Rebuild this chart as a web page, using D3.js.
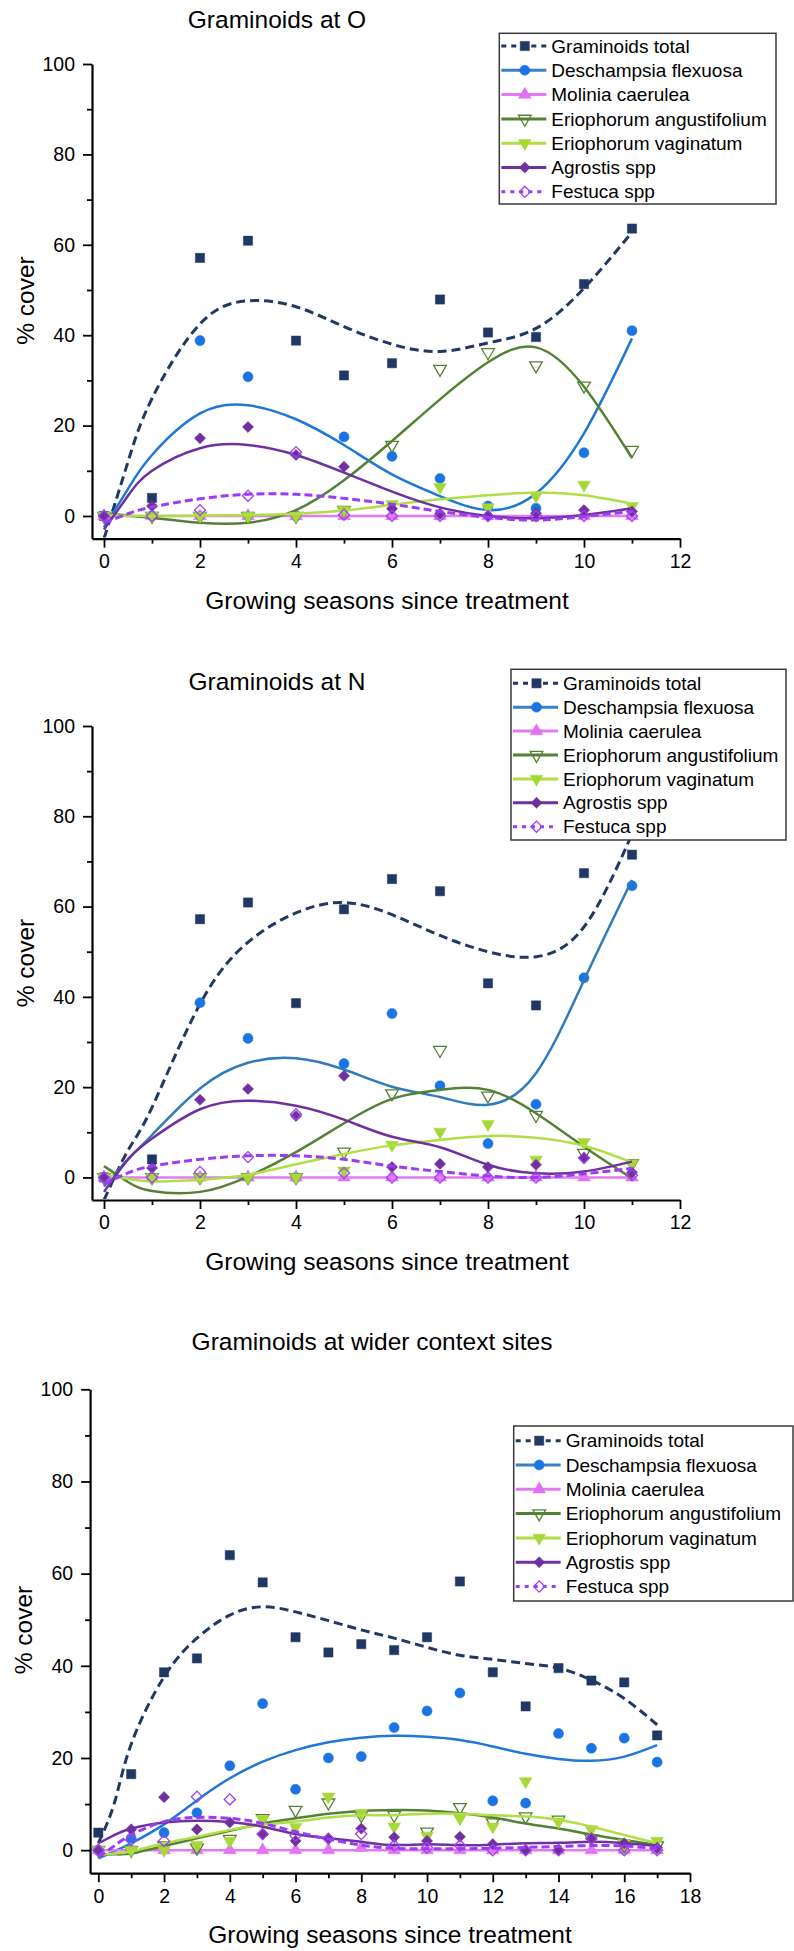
<!DOCTYPE html>
<html><head><meta charset="utf-8">
<script src="https://cdn.jsdelivr.net/npm/d3@7"></script>
<style>
body{margin:0;background:#fff}
svg{display:block}
text{font-family:Arial,"Liberation Sans",sans-serif;fill:#000}
</style>
</head><body>
<svg id="chart" width="794" height="1951"></svg>
<script>
// ---------------- DATA ----------------
const SERIES_NAMES = ["Graminoids total","Deschampsia flexuosa","Molinia caerulea","Eriophorum angustifolium","Eriophorum vaginatum","Agrostis spp","Festuca spp"];
const PANEL_TITLES = ["Graminoids at O","Graminoids at N","Graminoids at wider context sites"];
const X_LABEL = "Growing seasons since treatment";
const Y_LABEL = "% cover";
const Y_TICKS = [0,20,40,60,80,100];
const Y_MINOR = [10,30,50,70,90];
const X_TICKS_12 = [0,2,4,6,8,10,12];
const X_MINOR_12 = [1,3,5,7,9,11];
const X_TICKS_18 = [0,2,4,6,8,10,12,14,16,18];
const X_MINOR_18 = [1,3,5,7,9,11,13,15,17];

// observation years
const X_ON = [0,1,2,3,4,5,6,7,8,9,10,11];
const X_W  = [0,1,2,3,4,5,6,7,8,9,10,11,12,13,14,15,16,17];
// x positions of the fitted-curve readings
const FX_ON = [0,0.5,1,2,3,4,5,6,7,8,9,10,11];
const FX_W  = [0,0.5,1,2,3,4,5,6,7,8,9,10,11,12,13,14,15,16,17];

// --- Site O: observed cover
const O_total  = [0,4,57.1,60.9,38.8,31.1,33.8,47.9,40.6,39.6,51.3,63.6];
const O_desch  = [0,0,38.8,30.8,0,17.5,13.2,8.3,2.2,1.7,14.0,41.0];
const O_molin  = [0,0,0,0,0,0,0,0,0,0,0,0];
const O_angus  = [0,0,0,0,0,1.3,15.7,32.5,36.2,33.3,28.8,14.6];
const O_vagin  = [0,0,0,0,0,1.3,2.6,6.4,1.9,4.4,6.9,2.2];
const O_agros  = [0,2.2,17.2,19.7,13.5,10.9,1.6,0.5,0,0.6,1.3,1.0];
const O_festu  = [0,0,1.3,4.5,14.1,0.3,0,0,0,0,0,0];
// --- Site O: fitted curves
const O_total_fit = [-5,12,26,42.5,47.6,46.3,41.9,38,36.4,38.3,41.5,50.4,62.8];
const O_desch_fit = [-2.5,6,13.5,22.7,24.5,21.4,15.7,9.2,4.4,1.3,5.0,18.3,39.3];
const O_molin_fit = [0,0,0,0,0,0,0,0,0,0,0,0,0];
const O_angus_fit = [0.6,0.1,-0.4,-1.5,-1.5,1.3,7.9,16.6,25.8,34,37.3,28.6,12.8];
const O_vagin_fit = [0.2,0,0,0.1,0.2,0.5,1.2,2.5,3.7,4.6,5.2,4.6,2.7];
const O_agros_fit = [-3,4.5,10,15,15.7,13.5,9.6,5.4,1.9,0,-0.5,0.2,1.7];
const O_festu_fit = [-1.5,0.5,2,3.8,4.8,4.8,3.9,2.6,1,-0.3,-0.9,-0.1,1.0];

// --- Site N: observed cover
const N_total  = [0,4.0,57.2,60.9,38.6,59.4,66.1,63.4,43.0,38.1,67.4,71.5];
const N_desch  = [0,0,38.7,30.8,0,25.2,36.3,20.3,7.5,16.2,44.2,64.6];
const N_molin  = [0,0,0,0,0,0,0,0,0,0,0,0];
const N_angus  = [0,0,0,0,0,5.7,18.6,28.2,18.1,13.8,5.4,3.1];
const N_vagin  = [0,0,0,0,0,1.5,7.2,10.1,11.8,3.9,7.8,3.1];
const N_agros  = [0,2.1,17.2,19.6,13.6,22.5,2.3,3.0,2.3,2.8,4.4,1.1];
const N_festu  = [0,0,1.2,4.5,14.0,1.0,0,0,0,0,4.3,0.5];
// --- Site N: fitted curves
const N_total_fit = [-5,6,15.5,38.4,52.1,58.6,60.9,58.2,53.6,50,48.9,55.5,76];
const N_desch_fit = [-2,4,9.4,19.7,25.4,26.4,23.9,20.1,17.8,16.1,23.1,43.7,65.9];
const N_molin_fit = [0,0,0,0,0,0,0,0,0,0,0,0,0];
const N_angus_fit = [2.5,-1,-3.0,-3.2,0.2,5.6,12,17.4,19.4,19.4,14.2,6.8,-0.2];
const N_vagin_fit = [0.5,-0.3,-0.9,-0.5,0.6,2.9,5.2,7.1,8.3,9.2,8.8,7.0,3.3];
const N_agros_fit = [-3.2,4,8.6,15.1,17,15.9,12.8,9,6.7,2.8,0.9,1.3,3.5];
const N_festu_fit = [-1.5,1,2.5,4.0,4.8,4.8,4.0,2.5,1.3,0.3,0,0.8,2.0];

// --- Wider context sites: observed cover
const W_total  = [3.8,16.5,38.6,41.6,64.0,58.1,46.2,42.9,44.7,43.4,46.2,58.3,38.6,31.2,39.5,36.8,36.4,24.9];
const W_desch  = [0,2.6,3.8,8.1,18.3,31.8,13.2,20.0,20.3,26.6,30.2,34.1,10.7,10.2,25.3,22.1,24.3,19.1];
const W_molin  = [0,0,0,0,0,0,0,0,0.5,0,0,0,0,0,0,0,0,0];
const W_angus  = [0,0,1,0.5,2.4,6.9,8.7,10.3,7.6,7.6,4.0,9.3,6,7.3,6.6,2.5,1,1];
const W_vagin  = [0,0,0,1.1,2,6.7,5,11.6,8.0,5.1,3.1,6.9,5.1,14.9,6.2,4.5,1.5,2.0];
const W_agros  = [0,4.5,11.5,4.5,6.0,3.4,2.0,2.5,4.7,2.8,2.0,2.9,1.3,0,0,2.6,1.5,0.5];
const W_festu  = [0,2.2,2.0,11.6,11.0,3.5,3.1,2.5,3.5,1,0.5,1,0,0,0,2.5,0,0];
// --- Wider context sites: fitted curves
const W_total_fit = [1.5,10.5,23,37.6,46,51,52.8,51.7,49.8,47.8,46,44,42.3,41.4,40.5,39.5,36.9,32.9,27.2];
const W_desch_fit = [-1.8,-0.2,1.5,5.6,10.8,15.6,19.2,21.7,23.4,24.4,24.8,24.6,23.9,22.5,20.9,19.8,19.4,20.3,22.8];
const W_molin_fit = [0,0,0,0,0,0,0,0,0,0,0,0,0,0,0,0,0,0,0];
const W_angus_fit = [-1,-0.9,-0.7,0.9,2.6,4.2,5.8,6.9,7.9,8.5,8.7,8.6,8.0,7.1,5.8,4.7,3.4,2.2,1.1];
const W_vagin_fit = [-1,-0.7,-0.3,1.5,2.9,4.4,5.5,6.2,7.1,7.6,7.6,7.9,7.9,7.6,7.3,6.6,5.1,3.3,1.5];
const W_agros_fit = [1.5,3.3,4.7,6.0,6.4,6.1,5.1,3.5,2.6,1.8,1.1,1.3,1.1,1.2,1.5,1.6,1.8,1.5,0.9];
const W_festu_fit = [-1.5,1.0,3.3,6.2,7.1,6.9,5.8,4.0,2.4,1.1,0.4,0.3,0.3,0.4,0.6,0.8,1.0,0.9,0.3];

// ---------------- STYLES ----------------
const STYLES = [
  {color:"#203864", line:"#203864", shape:"square", fill:true, dash:"9,5", width:3},
  {color:"#1a74e2", line:"#1f78d8", shape:"circle", fill:true, dash:null, width:2.5},
  {color:"#e070f5", line:"#e37af2", shape:"triUp", fill:true, dash:null, width:2.5},
  {color:"#548235", line:"#548235", shape:"triDown", fill:false, dash:null, width:2.5},
  {color:"#a6d838", line:"#b0de45", shape:"triDown", fill:true, dash:null, width:2.5},
  {color:"#7030a0", line:"#7030a0", shape:"diamond", fill:true, dash:null, width:2.5},
  {color:"#a040f5", line:"#9b3cf5", shape:"diamond", fill:false, dash:"8,4", width:3}
];
const LEGEND_DASH = ["5,5", null, null, null, null, null, "4,5"];
const LEGEND_LINE = ["#203864","#3a80c2","#e37af2","#548235","#b0de45","#7030a0","#9b3cf5"];

const panels = [
  {title:PANEL_TITLES[0], titleX:277, titleY:27.5,
   xDom:[-0.25,12], xRange:[92,680], yRange:[538.6,64], xTicks:X_TICKS_12, xMinor:X_MINOR_12,
   yTitle:[33.5,300.5], xTitleX:387, deschLine:"#1f78d8",
   x:X_ON, fx:FX_ON,
   pts:[O_total,O_desch,O_molin,O_angus,O_vagin,O_agros,O_festu],
   fits:[O_total_fit,O_desch_fit,O_molin_fit,O_angus_fit,O_vagin_fit,O_agros_fit,O_festu_fit],
   legend:{x:499.3,y:33.3,w:276.7,h:170.7,row0:46,step:24.3}},
  {title:PANEL_TITLES[1], titleX:277, titleY:690.3,
   xDom:[-0.25,12], xRange:[92,680], yRange:[1200,726], xTicks:X_TICKS_12, xMinor:X_MINOR_12,
   yTitle:[34,963], xTitleX:387, deschLine:"#2e7bbd",
   x:X_ON, fx:FX_ON,
   pts:[N_total,N_desch,N_molin,N_angus,N_vagin,N_agros,N_festu],
   fits:[N_total_fit,N_desch_fit,N_molin_fit,N_angus_fit,N_vagin_fit,N_agros_fit,N_festu_fit],
   legend:{x:511,y:669.3,w:275,h:170.7,row0:683.3,step:23.9}},
  {title:PANEL_TITLES[2], titleX:372, titleY:1350,
   xDom:[-0.25,18], xRange:[90.1,690], yRange:[1873.2,1389.3], xTicks:X_TICKS_18, xMinor:X_MINOR_18,
   yTitle:[31.7,1630], xTitleX:390, deschLine:"#1f78d8",
   x:X_W, fx:FX_W,
   pts:[W_total,W_desch,W_molin,W_angus,W_vagin,W_agros,W_festu],
   fits:[W_total_fit,W_desch_fit,W_molin_fit,W_angus_fit,W_vagin_fit,W_agros_fit,W_festu_fit],
   legend:{x:513.7,y:1426,w:279.3,h:175,row0:1440.7,step:24.3}}
];

const svg = d3.select("#chart");

function symbolPath(shape){
  switch(shape){
    case "square": return d3.symbol(d3.symbolSquare, 85)();
    case "circle": return d3.symbol(d3.symbolCircle, 80)();
    case "triUp": return d3.symbol(d3.symbolTriangle, 70)();
    case "triDown": return d3.symbol(d3.symbolTriangle, 70)();
    case "diamond": return d3.symbol(d3.symbolSquare, 62)();
  }
}
function symbolRot(shape){
  if(shape==="triDown") return 180;
  if(shape==="diamond") return 45;
  return 0;
}
function drawMarker(g, shape, st, cx, cy){
  g.append("path")
    .attr("d", symbolPath(shape))
    .attr("transform", `translate(${cx},${cy}) rotate(${symbolRot(shape)})`)
    .attr("fill", st.fill ? st.color : "#fff")
    .attr("fill-opacity", st.fill ? 1 : 0)
    .attr("stroke", st.color)
    .attr("stroke-width", st.fill ? 0.5 : 1.3);
}

panels.forEach((p, pi) => {
  const x = d3.scaleLinear().domain(p.xDom).range(p.xRange);
  const y = d3.scaleLinear().domain([-5,100]).range(p.yRange);
  const g = svg.append("g");

  g.append("text").attr("x", p.titleX).attr("y", p.titleY)
    .attr("text-anchor","middle").attr("font-size","24.5px").text(p.title);

  const yAxis = d3.axisLeft(y).tickValues(Y_TICKS).tickSize(9).tickSizeOuter(0).tickPadding(8);
  const yMinor = d3.axisLeft(y).tickValues(Y_MINOR).tickSize(5).tickSizeOuter(0).tickFormat("");
  const xAxis = d3.axisBottom(x).tickValues(p.xTicks).tickSize(9).tickSizeOuter(0).tickPadding(6.5);
  const xMinor = d3.axisBottom(x).tickValues(p.xMinor).tickSize(5).tickSizeOuter(0).tickFormat("");

  const ya = g.append("g").attr("transform",`translate(${p.xRange[0]},0)`).call(yAxis);
  g.append("g").attr("transform",`translate(${p.xRange[0]},0)`).call(yMinor).select(".domain").remove();
  const xa = g.append("g").attr("transform",`translate(0,${p.yRange[0]})`).call(xAxis);
  g.append("g").attr("transform",`translate(0,${p.yRange[0]})`).call(xMinor).select(".domain").remove();
  [ya, xa].forEach(a => {
    a.select(".domain").attr("stroke","#000").attr("stroke-width",2.2);
    a.selectAll("text").attr("font-size","19.5px").attr("font-family","Arial, 'Liberation Sans', sans-serif").attr("fill","#000");
  });
  g.selectAll(".tick line").attr("stroke","#000").attr("stroke-width",1.8);

  g.append("text").attr("x", p.xTitleX).attr("y", p.yRange[0] + 70)
    .attr("text-anchor","middle").attr("font-size","24.5px").text(X_LABEL);
  g.append("text").attr("transform",`translate(${p.yTitle[0]},${p.yTitle[1]}) rotate(-90)`)
    .attr("text-anchor","middle").attr("font-size","24.5px").text(Y_LABEL);

  const clipId = "clip" + pi;
  svg.append("clipPath").attr("id", clipId).append("rect")
    .attr("x", p.xRange[0]+1).attr("y", p.yRange[1]-10)
    .attr("width", p.xRange[1]-p.xRange[0]+10).attr("height", p.yRange[0]-p.yRange[1]+9);
  const plot = g.append("g").attr("clip-path", `url(#${clipId})`);

  const line = d3.line().x(d => x(d[0])).y(d => y(d[1])).curve(d3.curveNatural);

  STYLES.forEach((st, si) => {
    const pts = p.pts[si];
    const mg = plot.append("g");
    pts.forEach((v, i) => drawMarker(mg, st.shape, st, x(p.x[i]), y(v)));
    const fitData = p.fx.map((xv, i) => [xv, p.fits[si][i]]);
    plot.append("path").datum(fitData)
      .attr("d", line).attr("fill","none")
      .attr("stroke", si === 1 ? p.deschLine : st.line).attr("stroke-width", st.width)
      .attr("stroke-dasharray", st.dash);
  });

  const L = p.legend;
  const lg = g.append("g");
  lg.append("rect").attr("x", L.x).attr("y", L.y).attr("width", L.w).attr("height", L.h)
    .attr("fill","#fff").attr("stroke","#3a3a3a").attr("stroke-width",1.5);
  SERIES_NAMES.forEach((name, si) => {
    const st = STYLES[si];
    const cy = L.row0 + si * L.step;
    const x0 = L.x + 2, x1 = L.x + 47;
    lg.append("line").attr("x1", x0).attr("x2", x1).attr("y1", cy).attr("y2", cy)
      .attr("stroke", LEGEND_LINE[si]).attr("stroke-width", 3)
      .attr("stroke-dasharray", LEGEND_DASH[si]);
    drawMarker(lg, st.shape, st, (x0 + x1) / 2 + 1, cy);
    lg.append("text").attr("x", L.x + 52).attr("y", cy).attr("dy","0.35em")
      .attr("font-size","19px").text(name);
  });
});
</script>
</body></html>
